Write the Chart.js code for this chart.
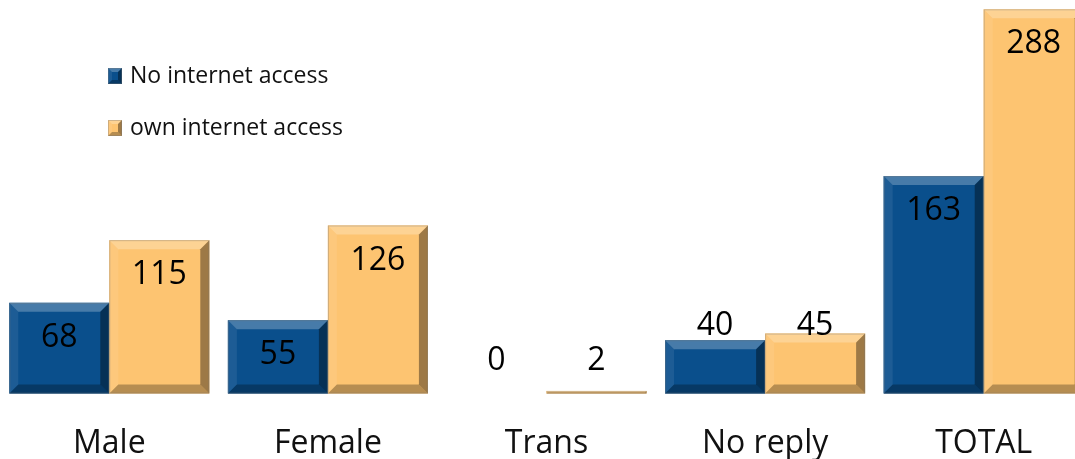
<!DOCTYPE html>
<html>
<head>
<meta charset="utf-8">
<script src="https://cdn.jsdelivr.net/npm/chart.js@4"></script>
<style>
  html, body { margin: 0; padding: 0; background: #fff; overflow: hidden; }
  #wrap { width: 1093px; height: 459px; }
</style>
</head>
<body>
<div id="wrap"><canvas id="graficoAcceso"></canvas></div>
<script>
const categorias = ["Male", "Female", "Trans", "No reply", "TOTAL"];
const sinAcceso = [68, 55, 0, 40, 163];
const conAcceso = [115, 126, 2, 45, 288];
const nombreSinAcceso = "No internet access";
const nombreConAcceso = "own internet access";

const azul = "#0a4f8c";
const naranja = "#fdc471";
const fuente = "'Open Sans', 'Noto Sans', sans-serif";

// dibuja un rectangulo con bisel (luz arriba/izquierda, sombra abajo/derecha)
function bisel(ctx, l, t, r, b, color, tam) {
  const h = b - t;
  const w = r - l;
  const s = Math.max(0, Math.min(tam, h / 2, w / 2));
  ctx.save();
  ctx.fillStyle = color;
  ctx.fillRect(l, t, w, h);
  if (s > 0) {
    const caras = [
      { p: [[l, t], [r, t], [r - s, t + s], [l + s, t + s]], c: "rgba(255,255,255,0.25)" },
      { p: [[l, t], [l + s, t + s], [l + s, b - s], [l, b]], c: "rgba(255,255,255,0.08)" },
      { p: [[r, t], [r, b], [r - s, b - s], [r - s, t + s]], c: "rgba(0,0,0,0.38)" },
      { p: [[l, b], [r, b], [r - s, b - s], [l + s, b - s]], c: "rgba(0,0,0,0.28)" },
    ];
    caras.forEach((cara) => {
      ctx.beginPath();
      ctx.moveTo(cara.p[0][0], cara.p[0][1]);
      for (let i = 1; i < cara.p.length; i++) ctx.lineTo(cara.p[i][0], cara.p[i][1]);
      ctx.closePath();
      ctx.fillStyle = cara.c;
      ctx.fill();
    });
  }
  ctx.strokeStyle = "rgba(120,120,120,0.35)";
  ctx.lineWidth = 1;
  ctx.strokeRect(l + 0.5, t + 0.5, w - 1, Math.max(h - 1, 0));
  ctx.restore();
}

const barrasBisel = {
  id: "barrasBisel",
  afterDatasetsDraw(chart) {
    const ctx = chart.ctx;
    chart.data.datasets.forEach((ds, i) => {
      chart.getDatasetMeta(i).data.forEach((bar, j) => {
        if (ds.data[j] === 0) return;
        const p = bar.getProps(["x", "y", "base", "width"], true);
        bisel(ctx, p.x - p.width / 2, p.y, p.x + p.width / 2, p.base, ds.backgroundColor, 9);
      });
    });
  },
};

const etiquetas = {
  id: "etiquetas",
  afterDatasetsDraw(chart) {
    const ctx = chart.ctx;
    ctx.save();
    ctx.font = "32px " + fuente;
    ctx.fillStyle = "#000";
    ctx.textAlign = "center";
    ctx.textBaseline = "middle";
    chart.data.datasets.forEach((ds, i) => {
      chart.getDatasetMeta(i).data.forEach((bar, j) => {
        const p = bar.getProps(["x", "y", "base"], true);
        const alto = p.base - p.y;
        let y;
        if (alto < 10) y = p.base - 33;
        else if (alto < 66) y = p.base - 68;
        else y = p.y + 35;
        ctx.fillText(ds.data[j], p.x, y);
      });
    });
    ctx.restore();
  },
};

const leyenda = {
  id: "leyenda",
  afterDraw(chart) {
    const ctx = chart.ctx;
    ctx.save();
    ctx.font = "23px " + fuente;
    ctx.textBaseline = "middle";
    ctx.textAlign = "left";
    chart.data.datasets.forEach((ds, i) => {
      const y = 76 + i * 52;
      bisel(ctx, 108, y - 8, 122, y + 8, ds.backgroundColor, 4);
      ctx.fillStyle = "#111";
      ctx.fillText(ds.label, 130, y);
    });
    ctx.restore();
  },
};

new Chart(document.querySelector("#graficoAcceso"), {
  type: "bar",
  data: {
    labels: categorias,
    datasets: [
      { label: nombreSinAcceso, data: sinAcceso, backgroundColor: azul },
      { label: nombreConAcceso, data: conAcceso, backgroundColor: naranja },
    ],
  },
  options: {
    responsive: true,
    maintainAspectRatio: false,
    animation: false,
    categoryPercentage: 0.915,
    barPercentage: 1,
    layout: { padding: { top: 0, bottom: -35, left: 0, right: 0 } },
    plugins: { legend: { display: false }, tooltip: { enabled: false } },
    scales: {
      x: {
        grid: { display: false, drawTicks: false },
        border: { display: false },
        ticks: { color: "#111", padding: 31, font: { size: 32, family: fuente } },
      },
      y: { display: false, min: 0, max: 295 },
    },
  },
  plugins: [barrasBisel, etiquetas, leyenda],
});
</script>
</body>
</html>
